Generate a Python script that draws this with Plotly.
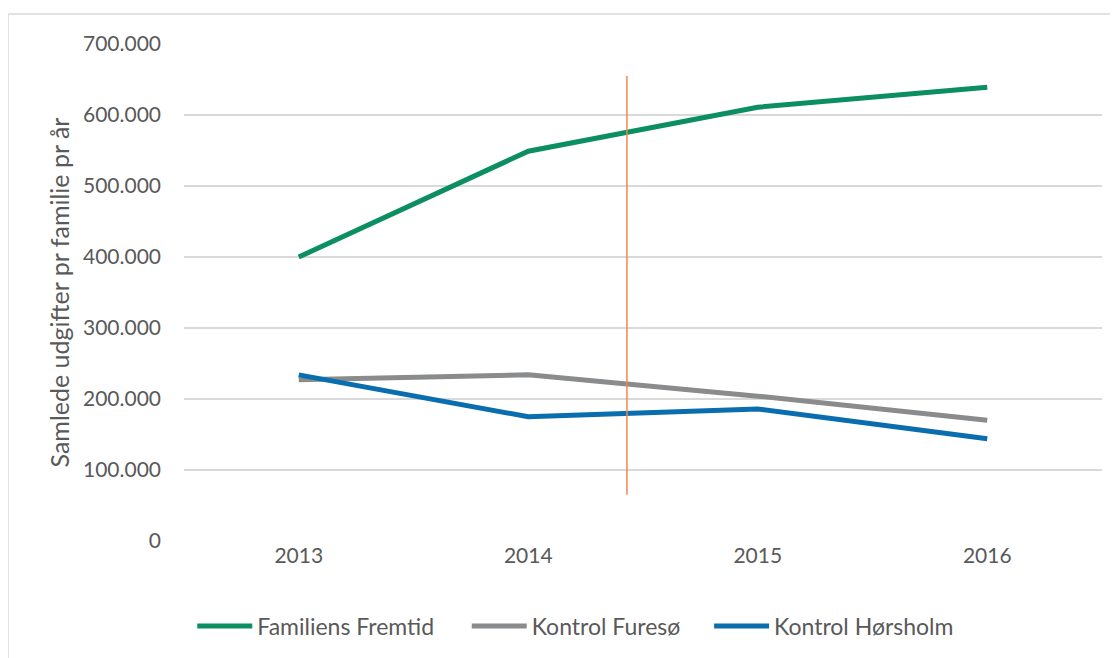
import plotly.graph_objects as go

# data
years = [2013, 2014, 2015, 2016]
familiens_fremtid = [400000, 549000, 611000, 639000]
kontrol_furesoe = [227000, 234000, 204000, 170000]
kontrol_hoersholm = [234000, 175000, 186000, 144000]

# vertical marker (start of the intervention, between 2014 and 2015)
marker_x = [2014.43, 2014.43]
marker_y = [65000, 655000]

TEXT = "#595959"
GRID = "#D9D9D9"
FONT = "Lato"

fig = go.Figure()

series = [
    ("Familiens Fremtid", familiens_fremtid, "#0B8F60", "legend", 0.009),
    ("Kontrol Furesø", kontrol_furesoe, "#898B8D", "legend2", 0.308),
    ("Kontrol Hørsholm", kontrol_hoersholm, "#0A6EAE", "legend3", 0.572),
]
legends = {}
for name, vals, color, leg, lx in series:
    fig.add_trace(go.Scatter(x=years, y=vals, name=name, mode="lines", legend=leg,
                             line=dict(color=color, width=5)))
    legends[leg] = dict(orientation="h", x=lx, xanchor="left", y=-0.171, yanchor="middle",
                        font=dict(size=23, color=TEXT), itemwidth=55,
                        bgcolor="rgba(0,0,0,0)")

fig.add_trace(go.Scatter(x=marker_x, y=marker_y, mode="lines", showlegend=False,
                         hoverinfo="skip", line=dict(color="#F0884E", width=1.5)))

# light frame (only top and left edge visible in the reference)
fig.add_shape(type="line", xref="paper", yref="paper", x0=-0.1917, x1=1.05,
              y0=1.0604, y1=1.0604, line=dict(color=GRID, width=1.5))
fig.add_shape(type="line", xref="paper", yref="paper", x0=-0.1917, x1=-0.1917,
              y0=1.0604, y1=-0.3, line=dict(color=GRID, width=1.5))

# the page body adds an 8px offset, so margins are shifted to compensate
fig.update_layout(
    width=1118, height=658,
    margin=dict(l=176, r=24, t=36, b=125),
    paper_bgcolor="white", plot_bgcolor="white",
    separators=",.",
    font=dict(family=FONT, size=22, color=TEXT),
    showlegend=True,
    **legends,
)
fig.update_xaxes(range=[2012.5, 2016.5], tickvals=years, ticktext=[str(y) for y in years],
                 showgrid=False, zeroline=False, showline=False, ticks="",
                 tickfont=dict(size=21, color=TEXT))
fig.update_yaxes(range=[0, 700000], tickvals=[0, 100000, 200000, 300000, 400000, 500000, 600000, 700000],
                 tickformat=",d", showgrid=True, gridcolor=GRID, gridwidth=1.5,
                 zeroline=False, showline=False, ticks="", ticklabelstandoff=22,
                 tickfont=dict(size=21, color=TEXT),
                 title=dict(text="Samlede udgifter pr familie pr år", standoff=6,
                            font=dict(size=25, color=TEXT)))

fig.write_html("out.html")
